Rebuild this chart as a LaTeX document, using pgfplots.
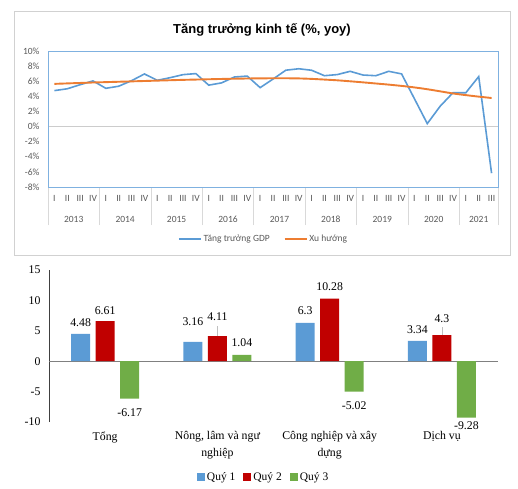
\documentclass[border=0pt]{standalone}
\usepackage{fontspec}
\setmainfont{Liberation Serif}
\newfontfamily\calfont{Carlito}
\newfontfamily\arialfont{Liberation Sans}
\usepackage{pgfplots}
\usepackage{pgfplotstable}
\pgfplotsset{compat=1.18}
\definecolor{gdpblue}{HTML}{5B9BD5}
\definecolor{trendorange}{HTML}{ED7D31}
\definecolor{frameblue}{HTML}{7FB1E0}
\definecolor{labgray}{HTML}{595959}
\definecolor{q1c}{HTML}{5B9BD5}
\definecolor{q2c}{HTML}{C00000}
\definecolor{q3c}{HTML}{70AD47}

\pgfplotstableread{
x gdp trend
0 4.76 5.65
1 5.00 5.71
2 5.54 5.77
3 6.04 5.83
4 5.06 5.88
5 5.34 5.93
6 6.07 5.98
7 6.96 6.03
8 6.12 6.08
9 6.47 6.13
10 6.87 6.18
11 7.01 6.22
12 5.48 6.26
13 5.78 6.30
14 6.56 6.33
15 6.68 6.36
16 5.15 6.38
17 6.28 6.39
18 7.46 6.39
19 7.65 6.37
20 7.45 6.31
21 6.73 6.22
22 6.88 6.12
23 7.31 5.99
24 6.82 5.85
25 6.73 5.70
26 7.31 5.55
27 6.97 5.38
28 3.68 5.18
29 0.39 4.94
30 2.69 4.66
31 4.48 4.38
32 4.48 4.16
33 6.61 3.96
34 -6.17 3.78
}\gdptab

\pgfplotstableread{
x y dy
0 4.48 11.8
1 3.16 20.5
2 6.3 12.7
3 3.34 11.4
}\qone
\pgfplotstableread{
x y dy
0 6.61 10.8
1 4.11 20
2 10.28 12.5
3 4.3 16.2
}\qtwo
\pgfplotstableread{
x y dy
0 -6.17 -13.8
1 1.04 12.4
2 -5.02 -13.5
3 -9.28 -8
}\qthree

\begin{document}
\begin{tikzpicture}
\useasboundingbox (0pt,0pt) rectangle (518pt,488pt);
\draw[black!18, line width=0.8pt] (14pt,233pt) rectangle (510pt,477pt);
\node[font=\arialfont\bfseries\fontsize{13}{15}\selectfont] at (262pt,458pt) {Tăng trưởng kinh tế (\%, yoy)};

\begin{axis}[
  at={(48pt,301pt)}, anchor=south west, scale only axis,
  width=450pt, height=136pt,
  xmin=-0.5, xmax=34.5, ymin=-8, ymax=10,
  /pgf/number format/assume math mode=true,
  ytick={-8,-6,...,10},
  yticklabel={\pgfmathprintnumber{\tick}\%},
  xtick={0,...,34},
  xticklabels={I,II,III,IV,I,II,III,IV,I,II,III,IV,I,II,III,IV,I,II,III,IV,I,II,III,IV,I,II,III,IV,I,II,III,IV,I,II,III},
  major tick length=0pt,
  xtick pos=bottom, ytick pos=left,
  axis line style={draw=frameblue, line width=0.9pt},
  tick label style={font=\calfont\fontsize{9.5}{11}\selectfont, text=labgray},
  yticklabel style={xshift=-5pt},
  xticklabel style={yshift=-5pt},
  extra y ticks={0}, extra y tick labels={},
  extra y tick style={grid=major, major grid style={draw=black!20, line width=0.8pt}},
  extra x ticks={-0.5,3.5,7.5,11.5,15.5,19.5,23.5,27.5,31.5,34.5},
  extra x tick labels={},
  extra x tick style={major tick length=38pt, tick align=outside, tick style={draw=black!15, line width=0.6pt}},
  clip=false,
  legend style={at={(0.479,-0.382)}, anchor=center, draw=none, fill=none,
    legend columns=2, font=\calfont\fontsize{9.5}{11}\selectfont, text=labgray,
    inner sep=1pt,
    /tikz/every even column/.append style={column sep=12pt}},
  legend image code/.code={\draw[#1, line width=1.6pt] (0pt,0pt) -- (22pt,0pt);},
]
\draw[frameblue, line width=0.9pt] (rel axis cs:0,0) rectangle (rel axis cs:1,1);
\addplot[gdpblue, line width=1.6pt, mark=none] table[x=x,y=gdp]{\gdptab};
\addlegendentry{Tăng trưởng GDP}
\addplot[trendorange, line width=1.9pt, mark=none, smooth] table[x=x,y=trend]{\gdptab};
\addlegendentry{Xu hướng}
\node[font=\calfont\fontsize{9.5}{11}\selectfont, text=labgray] at (axis cs:1.5,-8) [yshift=-32pt] {2013};
\node[font=\calfont\fontsize{9.5}{11}\selectfont, text=labgray] at (axis cs:5.5,-8) [yshift=-32pt] {2014};
\node[font=\calfont\fontsize{9.5}{11}\selectfont, text=labgray] at (axis cs:9.5,-8) [yshift=-32pt] {2015};
\node[font=\calfont\fontsize{9.5}{11}\selectfont, text=labgray] at (axis cs:13.5,-8) [yshift=-32pt] {2016};
\node[font=\calfont\fontsize{9.5}{11}\selectfont, text=labgray] at (axis cs:17.5,-8) [yshift=-32pt] {2017};
\node[font=\calfont\fontsize{9.5}{11}\selectfont, text=labgray] at (axis cs:21.5,-8) [yshift=-32pt] {2018};
\node[font=\calfont\fontsize{9.5}{11}\selectfont, text=labgray] at (axis cs:25.5,-8) [yshift=-32pt] {2019};
\node[font=\calfont\fontsize{9.5}{11}\selectfont, text=labgray] at (axis cs:29.5,-8) [yshift=-32pt] {2020};
\node[font=\calfont\fontsize{9.5}{11}\selectfont, text=labgray] at (axis cs:33,-8) [yshift=-32pt] {2021};
\end{axis}

\begin{axis}[
  at={(49pt,66pt)}, anchor=south west, scale only axis,
  width=449pt, height=152pt,
  xmin=-0.5, xmax=3.5, ymin=-10, ymax=15,
  ytick={-10,-5,...,15},
  /pgf/number format/assume math mode=true,
  ybar=5.5pt, bar width=19pt,
  axis x line=bottom, axis y line=left,
  x axis line style={draw=none},
  y axis line style={-, draw=black!75, line width=1pt},
  xtick={0,1,2,3},
  xticklabels={Tổng,{Nông, lâm và ngư\\nghiệp},{Công nghiệp và xây\\dựng},Dịch vụ},
  major tick length=0pt,
  tick label style={font=\fontsize{11.8}{17}\selectfont},
  xticklabel style={align=center, yshift=-6pt},
  yticklabel style={xshift=-5pt},
  extra y ticks={0}, extra y tick labels={},
  extra y tick style={grid=major, major grid style={draw=black!50, line width=1pt}},
  clip=false,
  nodes near coords,
  nodes near coords style={font=\fontsize{11.8}{13}\selectfont, text=black},
  legend style={at={(0.478,-0.362)}, anchor=center, draw=none, fill=none,
    legend columns=3, font=\fontsize{11.5}{13}\selectfont,
    /tikz/every even column/.append style={column sep=6pt}},
  legend image code/.code={\fill[#1] (0pt,-3.5pt) rectangle (8pt,4.5pt);},
]
\addplot[fill=q1c, draw=none, visualization depends on={\thisrow{dy} \as \dy},
  every node near coord/.append style={anchor=center, yshift=\dy pt}] table[x=x,y=y]{\qone};
\addlegendentry{Quý 1}
\addplot[fill=q2c, draw=none, visualization depends on={\thisrow{dy} \as \dy},
  every node near coord/.append style={anchor=center, yshift=\dy pt}] table[x=x,y=y]{\qtwo};
\addlegendentry{Quý 2}
\addplot[fill=q3c, draw=none, visualization depends on={\thisrow{dy} \as \dy},
  every node near coord/.append style={anchor=center, yshift=\dy pt}] table[x=x,y=y]{\qthree};
\addlegendentry{Quý 3}
\draw[black!25, line width=0.6pt] (axis cs:1,4.11) -- (axis cs:1,5.87);
\draw[black!25, line width=0.6pt] (axis cs:3,4.3) -- (axis cs:3,5.7);
\end{axis}
\end{tikzpicture}
\end{document}
